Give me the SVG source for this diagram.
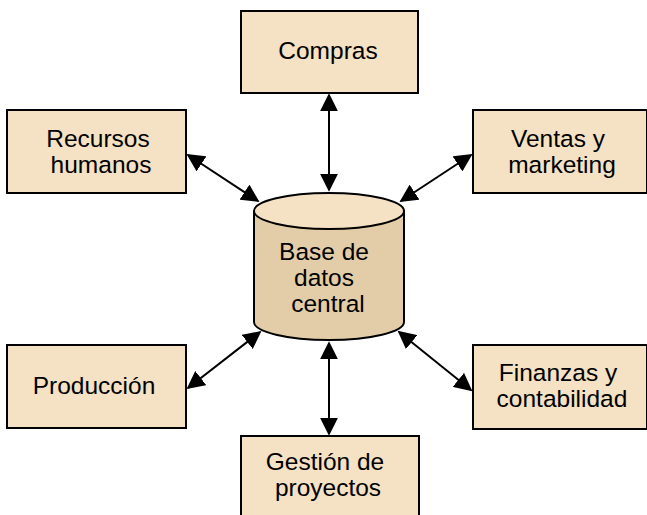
<svg xmlns="http://www.w3.org/2000/svg" width="647" height="515" viewBox="0 0 647 515">
<defs>
<style>
.box{fill:#F5E1C3;stroke:#000;stroke-width:2}
.t{font-family:"Liberation Sans",Arial,sans-serif;font-size:24.5px;fill:#000;text-anchor:middle}
.c{stroke:#000;stroke-width:2;fill:none;marker-start:url(#a);marker-end:url(#a)}
</style>
<marker id="a" viewBox="0 0 10 10" refX="9" refY="5" markerWidth="9" markerHeight="9" orient="auto-start-reverse"><path d="M0,0 L10,5 L0,10 z" fill="#000"/></marker>
</defs>
<rect width="647" height="515" fill="#fff"/>
<g id="connectors">
<path class="c" d="M329,95 L329,190"/>
<path class="c" d="M329,343 L329,434"/>
<path class="c" d="M188,155 L258,201"/>
<path class="c" d="M471,155 L401,201"/>
<path class="c" d="M188,388 L260,332"/>
<path class="c" d="M471,390 L399,332"/>
</g>
<g id="compras"><rect class="box" x="241" y="11" width="177" height="82"/><text class="t" x="328" y="59">Compras</text></g>
<g id="recursos"><rect class="box" x="7" y="110" width="179" height="83"/><text class="t" x="98" y="147">Recursos</text><text class="t" x="101" y="173">humanos</text></g>
<g id="ventas"><rect class="box" x="473" y="110" width="174" height="83"/><text class="t" x="558" y="147">Ventas y</text><text class="t" x="562" y="173">marketing</text></g>
<g id="produccion"><rect class="box" x="7" y="345" width="179" height="83"/><text class="t" x="94" y="394">Producción</text></g>
<g id="finanzas"><rect class="box" x="473" y="345" width="174" height="84"/><text class="t" x="558" y="381">Finanzas y</text><text class="t" x="562" y="407">contabilidad</text></g>
<g id="gestion"><rect class="box" x="241" y="436" width="178" height="82"/><text class="t" x="325" y="470">Gestión de</text><text class="t" x="328" y="496">proyectos</text></g>
<g id="base">
<path d="M254,211 L254,322 A75,18 0 0 0 404,322 L404,211 Z" fill="#E2CDA8" stroke="#000" stroke-width="2"/>
<ellipse cx="329" cy="211" rx="75" ry="18" fill="#F5E1C3" stroke="#000" stroke-width="2"/>
<text class="t" x="324" y="260">Base de</text><text class="t" x="324" y="286">datos</text><text class="t" x="328" y="312">central</text>
</g>
</svg>
